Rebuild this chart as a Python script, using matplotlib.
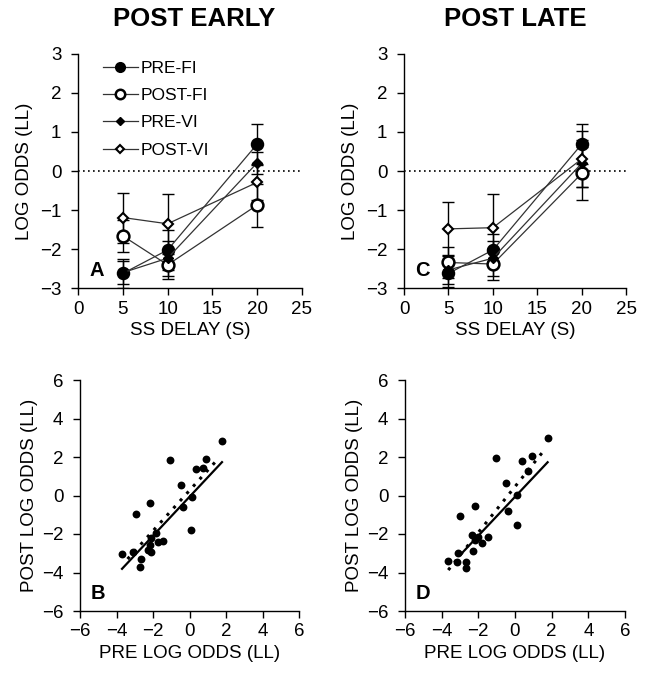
import matplotlib
matplotlib.use("Agg")
import matplotlib.pyplot as plt
import numpy as np

plt.rcParams['font.family'] = ['Liberation Sans', 'DejaVu Sans']

# ---------------- data ----------------
delays = [5, 10, 20]
series_labels = ["PRE-FI", "POST-FI", "PRE-VI", "POST-VI"]

# POST EARLY (panel A)
early_pre_fi = [-2.62, -2.02, 0.69]
early_post_fi = [-1.66, -2.40, -0.87]
early_pre_vi = [-2.60, -2.23, 0.21]
early_post_vi = [-1.19, -1.35, -0.29]
early_pre_fi_se = [0.36, 0.50, 0.51]
early_post_fi_se = [0.40, 0.35, 0.55]
early_pre_vi_se = [0.30, 0.45, 0.28]
early_post_vi_se = [0.64, 0.76, 0.45]

# POST LATE (panel C)
late_pre_fi = [-2.62, -2.02, 0.69]
late_post_fi = [-2.34, -2.38, -0.06]
late_pre_vi = [-2.53, -2.23, 0.20]
late_post_vi = [-1.48, -1.45, 0.31]
late_pre_fi_se = [0.35, 0.40, 0.52]
late_post_fi_se = [0.40, 0.40, 0.68]
late_pre_vi_se = [0.35, 0.45, 0.60]
late_post_vi_se = [0.68, 0.85, 0.71]

# Scatter panel B (pre vs post early)
b_pre = [1.77, -1.06, 0.88, 0.33, 0.73, -0.46, 0.11, -0.36, -2.19, -2.92, 0.09,
         -1.82, -2.10, -1.73, -1.46, -2.19, -2.10, -2.28, -3.10, -3.69, -2.65, -2.74]
b_post = [2.84, 1.82, 1.89, 1.39, 1.42, 0.55, -0.09, -0.59, -0.40, -0.97, -1.80,
          -1.96, -2.22, -2.39, -2.35, -2.56, -2.91, -2.82, -2.94, -3.05, -3.31, -3.72]
b_fit_x = [-3.70, 1.77]
b_fit_slope, b_fit_int = 1.013, -0.06
b_ref_x = [-3.40, 1.60]
b_ref_slope, b_ref_int = 1.05, 0.27

# Scatter panel D (pre vs post late)
d_pre = [1.78, -1.02, 0.36, 0.91, 0.69, -0.49, 0.09, -0.36, 0.09, -2.16, -2.98,
         -2.33, -2.04, -1.49, -1.82, -2.18, -2.31, -3.09, -3.64, -3.15, -2.67, -2.69]
d_post = [2.98, 1.97, 1.77, 2.03, 1.25, 0.64, 0.03, -0.78, -1.52, -0.52, -1.09,
          -2.04, -2.13, -2.13, -2.48, -2.30, -2.87, -3.00, -3.39, -3.43, -3.43, -3.77]
d_fit_x = [-2.95, 1.78]
d_fit_slope, d_fit_int = 1.01, -0.07
d_ref_x = [-3.64, 1.64]
d_ref_slope, d_ref_int = 1.19, 0.46

# ---------------- figure ----------------
W, H = 649, 689
fig = plt.figure(figsize=(W / 100, H / 100), dpi=100)


def rect(l, t, r, b):
    return [l / W, 1 - b / H, (r - l) / W, (b - t) / H]


axA = fig.add_axes(rect(78, 53.7, 302, 288.3))
axC = fig.add_axes(rect(404, 53.7, 626.3, 288.3))
axB = fig.add_axes(rect(80, 380, 299.3, 611))
axD = fig.add_axes(rect(405, 380, 625, 611))

line_col = '#333333'


def style(ax):
    for s in ['top', 'right']:
        ax.spines[s].set_visible(False)
    for s in ['left', 'bottom']:
        ax.spines[s].set_linewidth(1.0)
    ax.tick_params(direction='out', length=5, width=1.0, labelsize=13.5)
    ax.tick_params(axis='y', pad=7)
    ax.tick_params(axis='x', pad=4)


styles = [
    dict(marker='o', ms=8.5, mfc='black', mec='black', mew=1.2),
    dict(marker='o', ms=8.5, mfc='white', mec='black', mew=1.8),
    dict(marker='D', ms=4.8, mfc='black', mec='black', mew=1.0),
    dict(marker='D', ms=4.8, mfc='white', mec='black', mew=1.5),
]


def line_panel(ax, vals, ses, letter, legend=False):
    style(ax)
    ax.axhline(0, color='black', ls=(0, (1, 2)), lw=1.2, zorder=1)
    handles = []
    for v, e, st, lab in zip(vals, ses, styles, series_labels):
        ax.errorbar(delays, v, yerr=e, fmt='none', ecolor='black', elinewidth=1.0,
                    capsize=4, capthick=1.0, zorder=2)
        h, = ax.plot(delays, v, color=line_col, lw=0.9, zorder=3, label=lab, **st)
        handles.append(h)
    ax.set_xlim(0, 25)
    ax.set_ylim(-3, 3)
    ax.set_xticks([0, 5, 10, 15, 20, 25])
    ax.set_yticks([-3, -2, -1, 0, 1, 2, 3])
    ax.set_xlabel('SS DELAY (S)', fontsize=13.5, labelpad=3)
    ax.set_ylabel('LOG ODDS (LL)', fontsize=13.5, labelpad=5)
    ax.text(0.05, 0.035, letter, transform=ax.transAxes, fontsize=14.5,
            fontweight='bold', ha='left', va='bottom')
    if legend:
        ax.legend(handles=handles, loc='upper left', bbox_to_anchor=(0.08, 1.0),
                  frameon=False, fontsize=12.5, handlelength=2.0, handletextpad=0.15,
                  labelspacing=0.7, borderaxespad=0, markerscale=0.8)


line_panel(axA, [early_pre_fi, early_post_fi, early_pre_vi, early_post_vi],
           [early_pre_fi_se, early_post_fi_se, early_pre_vi_se, early_post_vi_se],
           'A', legend=True)
line_panel(axC, [late_pre_fi, late_post_fi, late_pre_vi, late_post_vi],
           [late_pre_fi_se, late_post_fi_se, late_pre_vi_se, late_post_vi_se],
           'C')


def scatter_panel(ax, xs, ys, fx, fs, fi, rx, rs, ri, letter):
    style(ax)
    ax.scatter(xs, ys, s=32, color='black', zorder=3, linewidths=0)
    fx = np.array(fx)
    rx = np.array(rx)
    ax.plot(fx, fs * fx + fi, color='black', lw=1.6, zorder=2)
    ax.plot(rx, rs * rx + ri, color='black', lw=2.2, ls=(0, (1, 2.2)), zorder=2)
    ax.set_xlim(-6, 6)
    ax.set_ylim(-6, 6)
    ax.set_xticks([-6, -4, -2, 0, 2, 4, 6])
    ax.set_yticks([-6, -4, -2, 0, 2, 4, 6])
    ax.set_xlabel('PRE LOG ODDS (LL)', fontsize=13.5, labelpad=3)
    ax.set_ylabel('POST LOG ODDS (LL)', fontsize=13.5, labelpad=3)
    ax.text(0.05, 0.035, letter, transform=ax.transAxes, fontsize=14.5,
            fontweight='bold', ha='left', va='bottom')


scatter_panel(axB, b_pre, b_post, b_fit_x, b_fit_slope, b_fit_int,
              b_ref_x, b_ref_slope, b_ref_int, 'B')
scatter_panel(axD, d_pre, d_post, d_fit_x, d_fit_slope, d_fit_int,
              d_ref_x, d_ref_slope, d_ref_int, 'D')

fig.text(194 / W, 1 - 19 / H, 'POST EARLY', fontsize=18.5, fontweight='bold',
         ha='center', va='center')
fig.text(515 / W, 1 - 19 / H, 'POST LATE', fontsize=18.5, fontweight='bold',
         ha='center', va='center')

fig.savefig('out.png', dpi=100)
